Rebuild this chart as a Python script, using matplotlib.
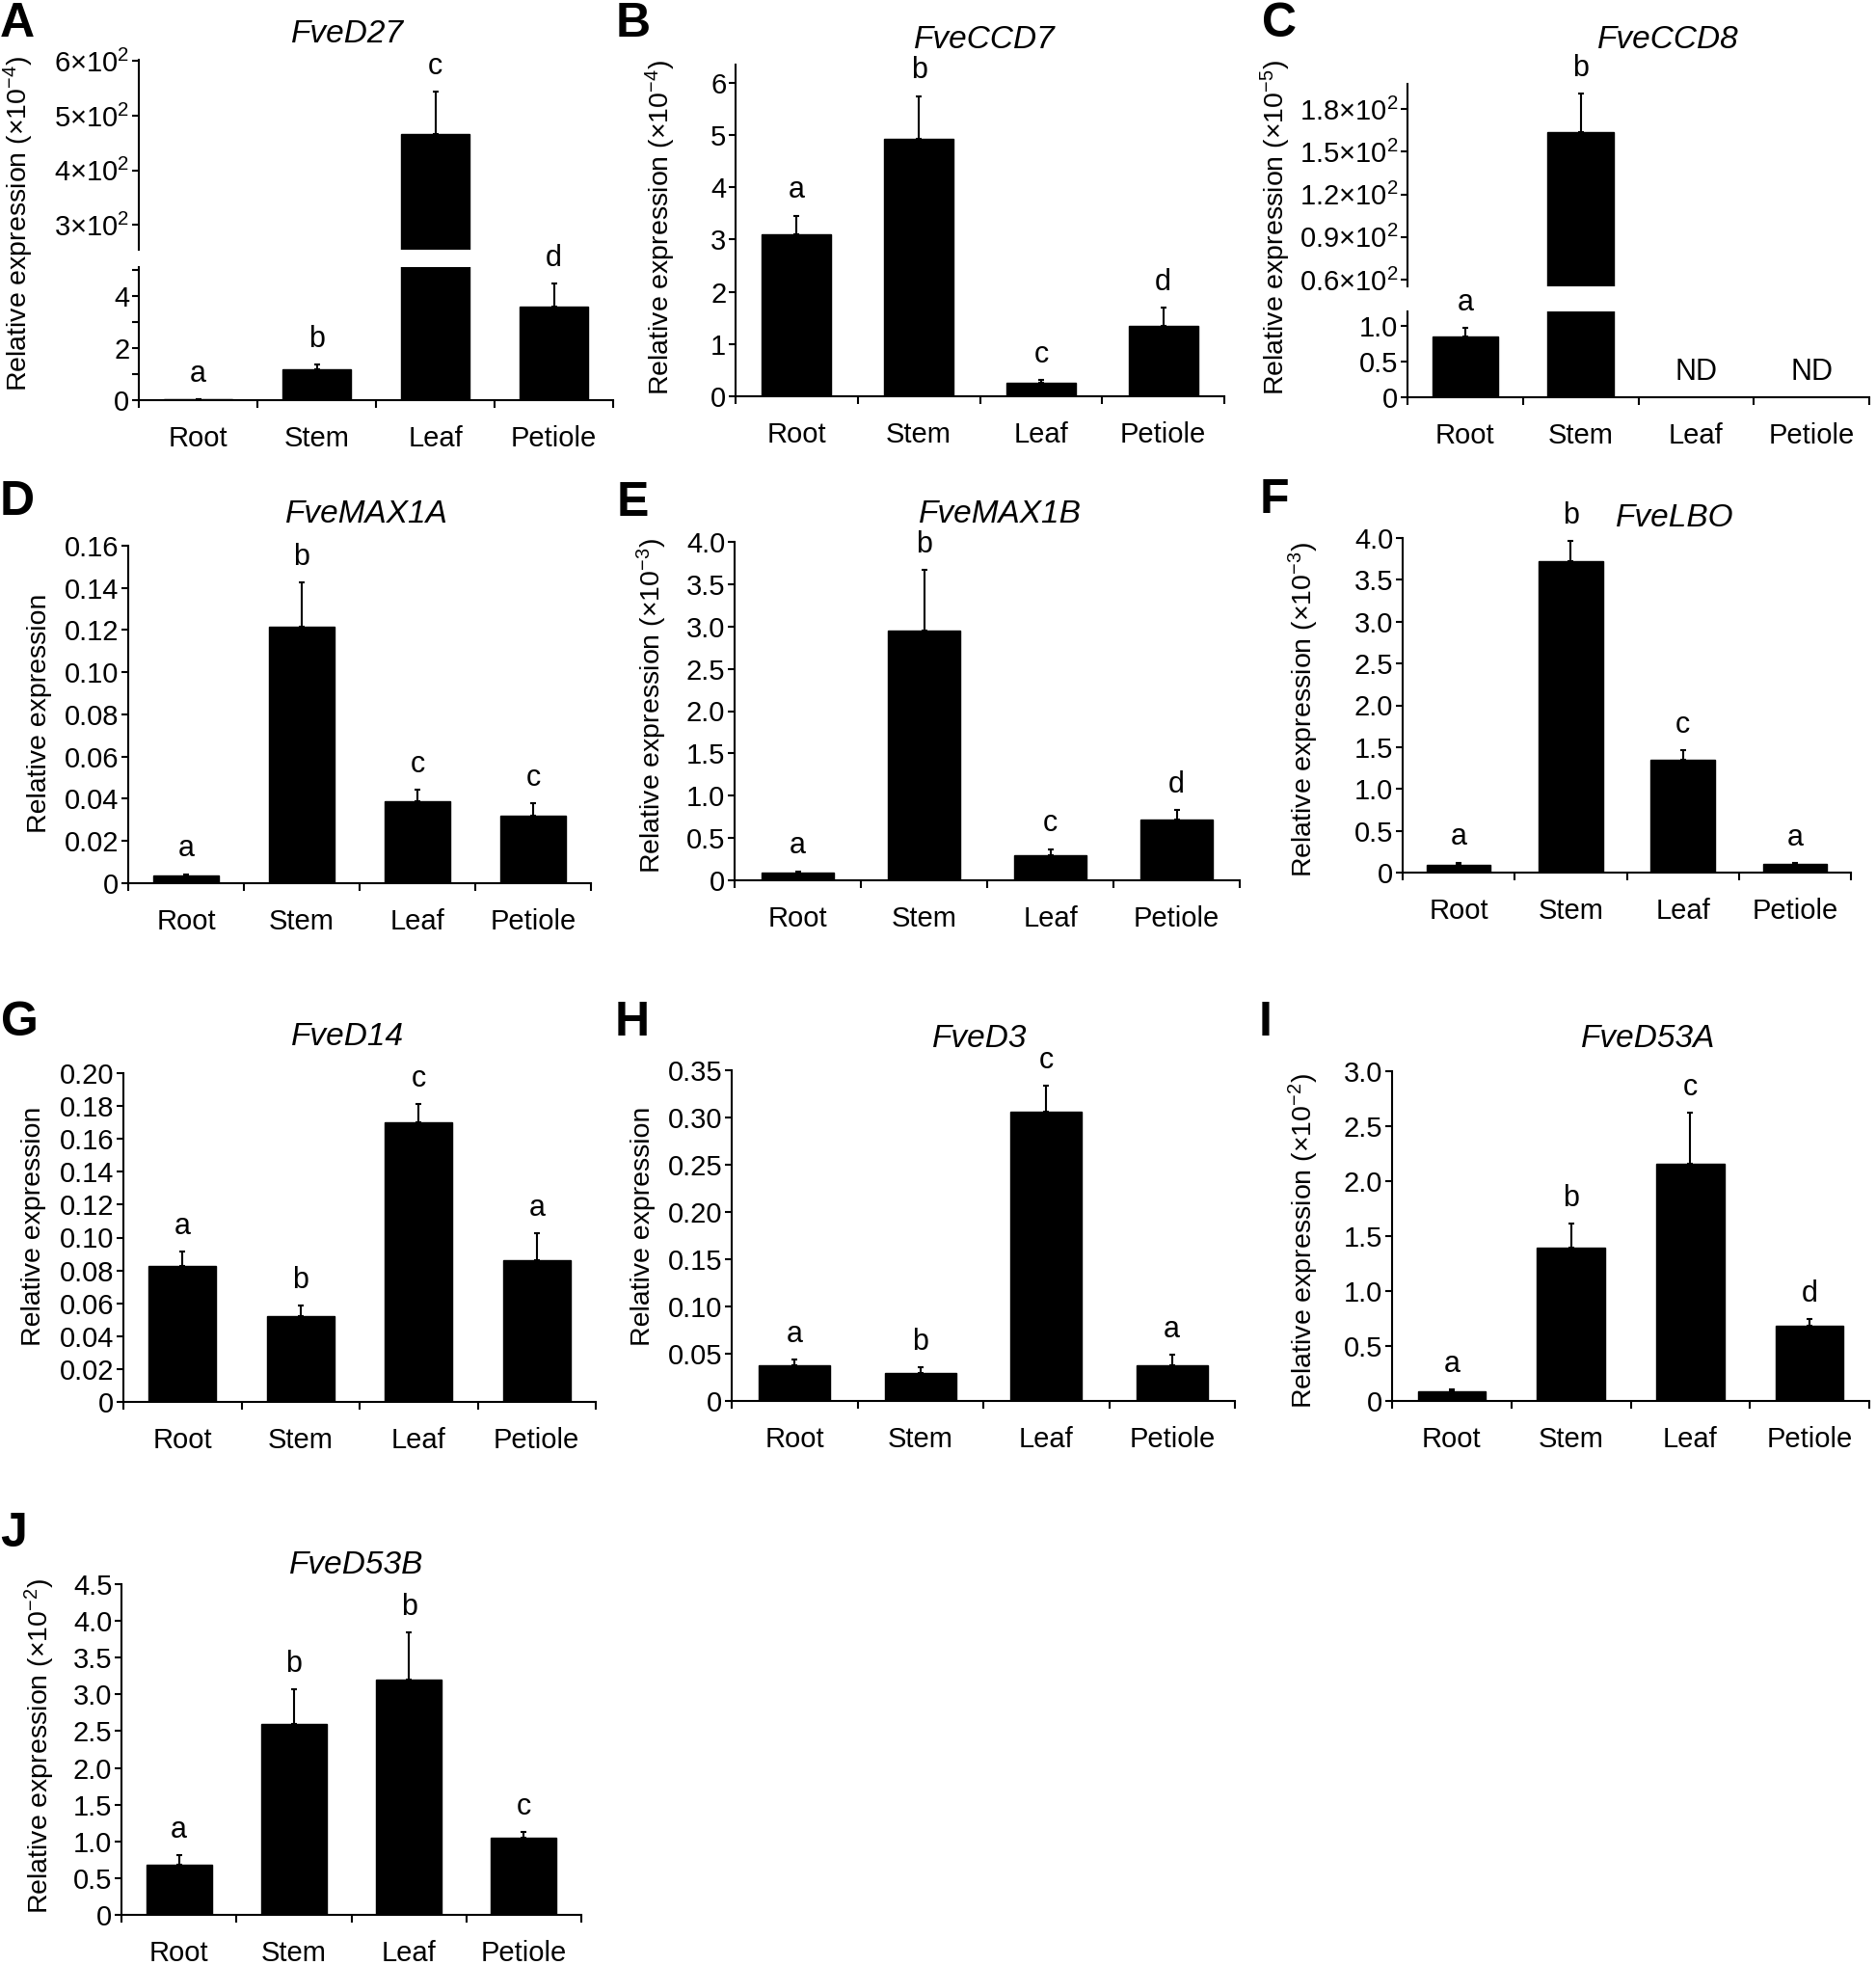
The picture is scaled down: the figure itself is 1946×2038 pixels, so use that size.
import numpy as np
import matplotlib
matplotlib.use('Agg')
from matplotlib import pyplot as plt

plt.rcParams['font.family'] = ['Liberation Sans', 'DejaVu Sans']
plt.rcParams['mathtext.fontset'] = 'custom'
plt.rcParams['mathtext.rm'] = 'Liberation Sans'
plt.rcParams['mathtext.it'] = 'Liberation Sans:italic'
plt.rcParams['mathtext.bf'] = 'Liberation Sans:bold'

W, H = 1946, 2038

tissues = ['Root', 'Stem', 'Leaf', 'Petiole']

# A  FveD27 (x10^-4)
d27_mean = [0.03, 1.17, 466, 3.58]
d27_err = [0.01, 0.19, 78, 0.90]
d27_let = ['a', 'b', 'c', 'd']
# B  FveCCD7 (x10^-4)
ccd7_mean = [3.10, 4.92, 0.26, 1.34]
ccd7_err = [0.36, 0.83, 0.06, 0.35]
ccd7_let = ['a', 'b', 'c', 'd']
# C  FveCCD8 (x10^-5)
ccd8_mean = [0.85, 164, 0, 0]
ccd8_err = [0.12, 27, 0, 0]
ccd8_let = ['a', 'b', 'ND', 'ND']
# D  FveMAX1A
max1a_mean = [0.0035, 0.1216, 0.039, 0.032]
max1a_err = [0.0008, 0.021, 0.0053, 0.0058]
max1a_let = ['a', 'b', 'c', 'c']
# E  FveMAX1B (x10^-3)
max1b_mean = [0.088, 2.95, 0.30, 0.715]
max1b_err = [0.02, 0.72, 0.07, 0.12]
max1b_let = ['a', 'b', 'c', 'd']
# F  FveLBO (x10^-3)
lbo_mean = [0.096, 3.72, 1.35, 0.104]
lbo_err = [0.024, 0.24, 0.11, 0.011]
lbo_let = ['a', 'b', 'c', 'a']
# G  FveD14
d14_mean = [0.0826, 0.0522, 0.170, 0.0865]
d14_err = [0.0088, 0.0063, 0.011, 0.016]
d14_let = ['a', 'b', 'c', 'a']
# H  FveD3
d3_mean = [0.0378, 0.030, 0.3057, 0.0378]
d3_err = [0.0058, 0.006, 0.028, 0.011]
d3_let = ['a', 'b', 'c', 'a']
# I  FveD53A (x10^-2)
d53a_mean = [0.088, 1.396, 2.155, 0.686]
d53a_err = [0.015, 0.214, 0.465, 0.06]
d53a_let = ['a', 'b', 'c', 'd']
# J  FveD53B (x10^-2)
d53b_mean = [0.68, 2.60, 3.20, 1.05]
d53b_err = [0.13, 0.47, 0.64, 0.08]
d53b_let = ['a', 'b', 'b', 'c']

fig = plt.figure(figsize=(W / 100, H / 100), dpi=100)


def box(x0, x1, y0, y1):
    # pixel box (top-left origin) -> figure fraction
    return [x0 / W, 1 - y1 / H, (x1 - x0) / W, (y1 - y0) / H]


def style(ax, bottom=True):
    ax.spines['top'].set_visible(False)
    ax.spines['right'].set_visible(False)
    ax.spines['left'].set_linewidth(1.5)
    ax.spines['bottom'].set_linewidth(1.5)
    ax.set_xlim(-0.5, 3.5)
    ax.tick_params(axis='y', direction='out', length=5, width=1.5, pad=2, labelsize=21)
    if bottom:
        ax.set_xticks([-0.5, 0.5, 1.5, 2.5, 3.5])
        ax.set_xticklabels([])
        ax.set_xticks(range(4), minor=True)
        ax.set_xticklabels(tissues, minor=True)
        ax.tick_params(axis='x', which='major', direction='out', length=6, width=1.5)
        ax.tick_params(axis='x', which='minor', length=0, pad=19, labelsize=21)
    else:
        ax.spines['bottom'].set_visible(False)
        ax.set_xticks([])


def bars(ax, means, errs, letters, ylim):
    x = np.arange(4)
    means = np.array(means, dtype=float)
    errs = np.array(errs, dtype=float)
    ax.bar(x, means, width=0.57, color='black', edgecolor='black')
    m = errs > 0
    ax.errorbar(x[m], means[m], yerr=[np.zeros(m.sum()), errs[m]], fmt='none',
                ecolor='black', elinewidth=1.5, capsize=2.5, capthick=1.5)
    ax.set_ylim(*ylim)
    for xi, mu, e, t in zip(x, means, errs, letters):
        top = mu + e
        if ylim[0] <= top <= ylim[1]:
            ax.annotate(t, (xi, top), xytext=(0, 8), textcoords='offset points',
                        ha='center', va='bottom', fontsize=22)


def simple(px, means, errs, letters, ylim, ticks, labels):
    ax = fig.add_axes(box(*px))
    style(ax)
    bars(ax, means, errs, letters, ylim)
    ax.set_yticks(ticks)
    ax.set_yticklabels(labels)
    return ax


def label(x, y, s):
    fig.text(x / W, 1 - y / H, s, fontsize=36, fontweight='bold', ha='center', va='center')


def title(x, y, s):
    fig.text(x / W, 1 - y / H, s, fontsize=24, style='italic', ha='center', va='center')


def ylab(x, y, s):
    fig.text(x / W, 1 - y / H, s, fontsize=20.5, rotation=90, ha='center', va='center')


# ---- A (broken axis)
axA_up = fig.add_axes(box(144, 636, 62, 259))
style(axA_up, bottom=False)
bars(axA_up, d27_mean, d27_err, d27_let, (255, 602))
axA_up.set_yticks([300, 400, 500, 600])
axA_up.set_yticklabels([r'3×10$^2$', r'4×10$^2$', r'5×10$^2$', r'6×10$^2$'])
axA_lo = fig.add_axes(box(144, 636, 277, 415))
style(axA_lo)
bars(axA_lo, d27_mean, d27_err, d27_let, (0, 5.1))
axA_lo.set_yticks([0, 1, 2, 3, 4, 5])
axA_lo.set_yticklabels(['0', '', '2', '', '4', ''])
label(18, 25, 'A')
title(361, 35, 'FveD27')
ylab(19, 232, r'Relative expression (×10$^{-4}$)')

# ---- B
simple((763, 1270, 67, 411), ccd7_mean, ccd7_err, ccd7_let, (0, 6.35),
       range(7), [str(i) for i in range(7)])
label(657, 25, 'B')
title(1021, 42, 'FveCCD7')
ylab(685, 236, r'Relative expression (×10$^{-4}$)')

# ---- C (broken axis)
axC_up = fig.add_axes(box(1460, 1939, 87, 297))
style(axC_up, bottom=False)
bars(axC_up, ccd8_mean, ccd8_err, ccd8_let, (55.3, 197.6))
axC_up.set_yticks([60, 90, 120, 150, 180])
axC_up.set_yticklabels([r'0.6×10$^2$', r'0.9×10$^2$', r'1.2×10$^2$', r'1.5×10$^2$', r'1.8×10$^2$'])
axC_lo = fig.add_axes(box(1460, 1939, 323, 412))
style(axC_lo)
bars(axC_lo, ccd8_mean, ccd8_err, ccd8_let, (0, 1.2))
axC_lo.set_yticks([0, 0.5, 1.0])
axC_lo.set_yticklabels(['0', '0.5', '1.0'])
label(1327, 25, 'C')
title(1730, 42, 'FveCCD8')
ylab(1323, 236, r'Relative expression (×10$^{-5}$)')

# ---- D
t = np.arange(0, 0.161, 0.02)
simple((133, 613, 566, 916), max1a_mean, max1a_err, max1a_let, (0, 0.16),
       t, ['0'] + ['%.2f' % v for v in t[1:]])
label(18, 521, 'D')
title(380, 533, 'FveMAX1A')
ylab(41, 740, 'Relative expression')

# ---- E
t = np.arange(0, 4.01, 0.5)
simple((762, 1286, 562, 913), max1b_mean, max1b_err, max1b_let, (0, 4.0),
       t, ['0'] + ['%.1f' % v for v in t[1:]])
label(656, 522, 'E')
title(1037, 533, 'FveMAX1B')
ylab(676, 732, r'Relative expression (×10$^{-3}$)')

# ---- F
simple((1455, 1920, 558, 905), lbo_mean, lbo_err, lbo_let, (0, 4.0),
       t, ['0'] + ['%.1f' % v for v in t[1:]])
label(1322, 519, 'F')
title(1737, 537, 'FveLBO')
ylab(1352, 736, r'Relative expression (×10$^{-3}$)')

# ---- G
t = np.arange(0, 0.201, 0.02)
simple((128, 618, 1113, 1454), d14_mean, d14_err, d14_let, (0, 0.20),
       t, ['0'] + ['%.2f' % v for v in t[1:]])
label(20, 1061, 'G')
title(361, 1075, 'FveD14')
ylab(35, 1272, 'Relative expression')

# ---- H
t = np.arange(0, 0.351, 0.05)
simple((759, 1281, 1110, 1453), d3_mean, d3_err, d3_let, (0, 0.35),
       t, ['0'] + ['%.2f' % v for v in t[1:]])
label(656, 1061, 'H')
title(1016, 1077, 'FveD3')
ylab(667, 1272, 'Relative expression')

# ---- I
t = np.arange(0, 3.01, 0.5)
simple((1444, 1939, 1111, 1453), d53a_mean, d53a_err, d53a_let, (0, 3.0),
       t, ['0'] + ['%.1f' % v for v in t[1:]])
label(1313, 1061, 'I')
title(1710, 1078, 'FveD53A')
ylab(1352, 1287, r'Relative expression (×10$^{-2}$)')

# ---- J
t = np.arange(0, 4.51, 0.5)
simple((126, 603, 1643, 1986), d53b_mean, d53b_err, d53b_let, (0, 4.5),
       t, ['0'] + ['%.1f' % v for v in t[1:]])
label(14, 1591, 'J')
title(370, 1623, 'FveD53B')
ylab(41, 1811, r'Relative expression (×10$^{-2}$)')

fig.savefig('out.png', dpi=100)
